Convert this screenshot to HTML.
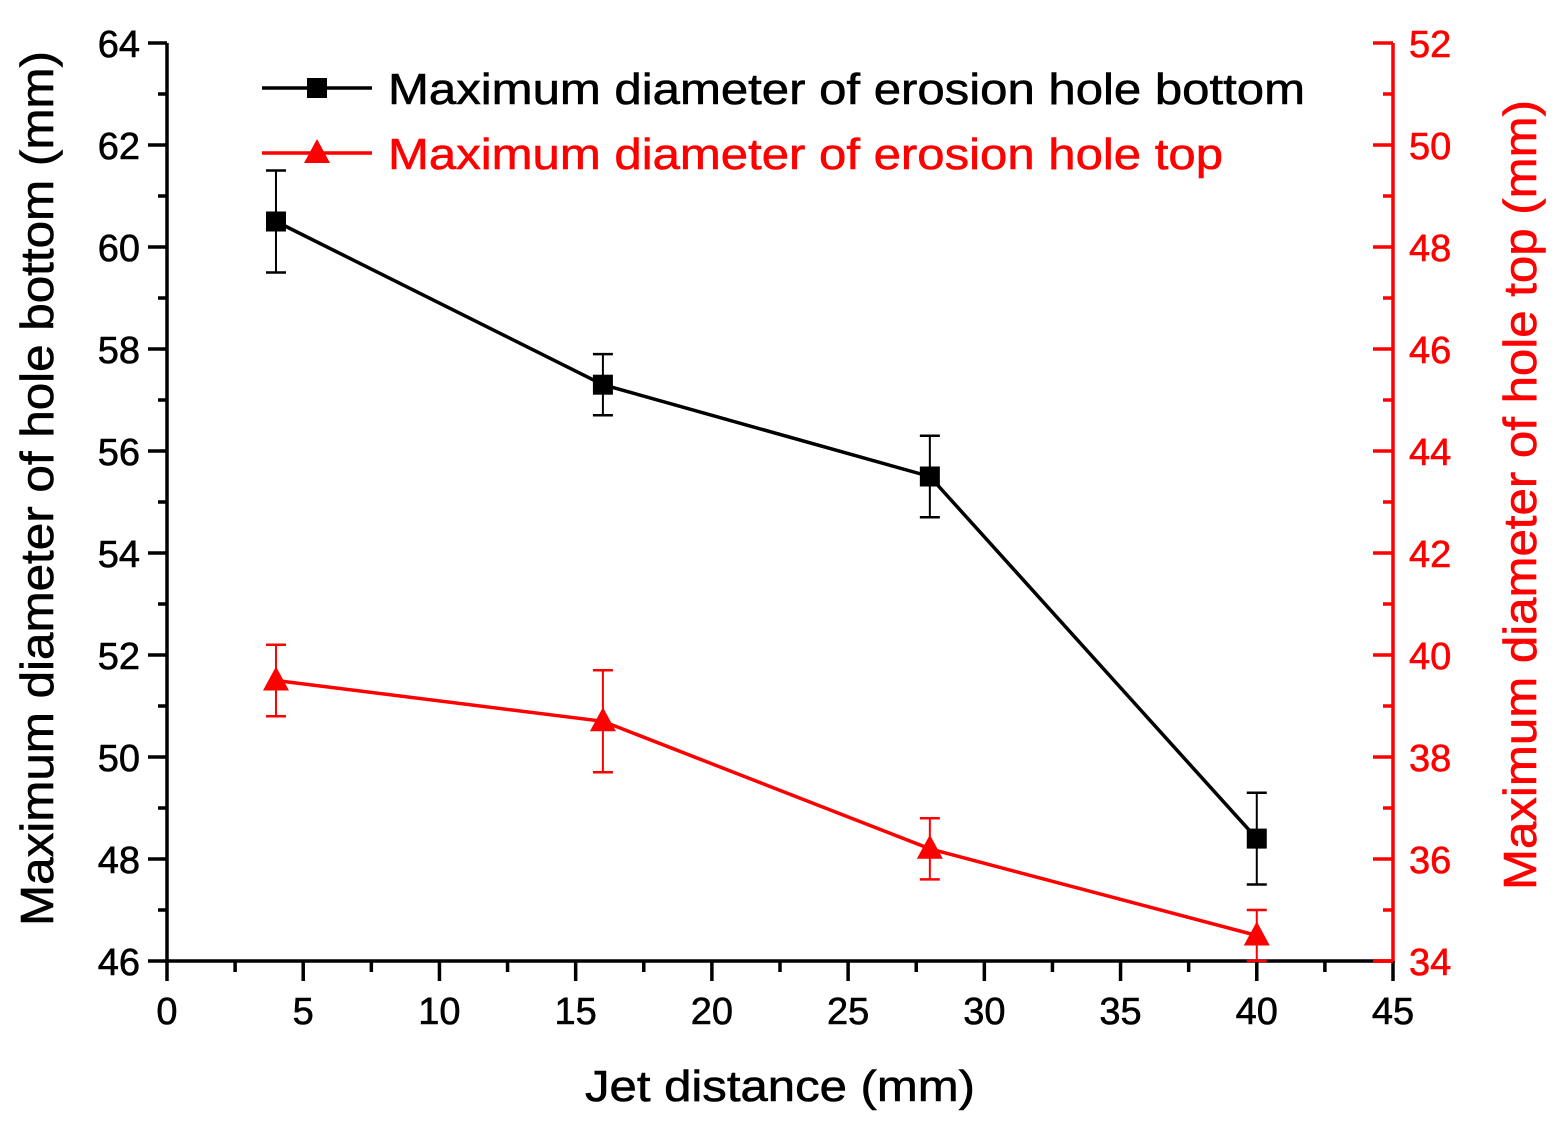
<!DOCTYPE html>
<html><head><meta charset="utf-8"><style>
body{margin:0;background:#fff}
text{font-family:"Liberation Sans",Arial,sans-serif}
</style></head><body>
<svg id="c" width="1557" height="1128" viewBox="0 0 1557 1128" xmlns="http://www.w3.org/2000/svg">
<g id="g"></g>
</svg>
<script>
const xs=[4,16,28,40];
const bottomVals=[60.5,57.3,55.5,48.4];
const bottomErr=[1.0,0.6,0.8,0.9];
const topVals=[39.5,38.7,36.2,34.5];
const topErr=[0.7,1.0,0.6,0.5];
const xTicks=[0,5,10,15,20,25,30,35,40,45];
const yLTicks=[46,48,50,52,54,56,58,60,62,64];
const yRTicks=[34,36,38,40,42,44,46,48,50,52];

const L=167,R=1393,T=43,B=961;
const X=v=>L+(v-0)/45*(R-L);
const YL=v=>B-(v-46)/18*(B-T);
const YR=v=>B-(v-34)/18*(B-T);
const g=document.getElementById('g');
const NS='http://www.w3.org/2000/svg';
function el(t,a,txt){const e=document.createElementNS(NS,t);for(const k in a)e.setAttribute(k,a[k]);if(txt!==undefined)e.textContent=txt;g.appendChild(e);return e;}
function line(x1,y1,x2,y2,c,w){return el('line',{x1,y1,x2,y2,stroke:c,'stroke-width':w});}

let e=line(L,T,L,B+2,'#000',3.5);


e=line(L-2,B,R,B,'#000',3.5);


e=line(R,T,R,B+2,'#f00',3.5);


line(R-20,B,R,B,'#f00',3.5);

const tickStyle={'font-size':38,stroke:'currentColor','stroke-width':0.6};
xTicks.forEach((v,i)=>{
  line(X(v),B,X(v),B+20,'#000',3.5);
  if(i<xTicks.length-1) line(X(v+2.5),B,X(v+2.5),B+11,'#000',3.5);
  const t=el('text',{x:X(v),y:B+63,'font-size':38,'text-anchor':'middle',fill:'#000',stroke:'#000','stroke-width':0.6},String(v));
  
  
});
yLTicks.forEach((v,i)=>{
  line(L-19,YL(v),L,YL(v),'#000',3.5);
  if(i<yLTicks.length-1) line(L-9,YL(v+1),L,YL(v+1),'#000',3.5);
  const t=el('text',{x:L-27,y:YL(v)+14,'font-size':38,'text-anchor':'end',fill:'#000',stroke:'#000','stroke-width':0.6},String(v));
  
  
});
yRTicks.forEach((v,i)=>{
  line(R-20,YR(v),R,YR(v),'#f00',3.5);
  if(i<yRTicks.length-1) line(R-10,YR(v+1),R,YR(v+1),'#f00',3.5);
  const t=el('text',{x:R+16,y:YR(v)+14,'font-size':38,'text-anchor':'start',fill:'#f00',stroke:'#f00','stroke-width':0.6},String(v));
  
  
});
e=el('text',{x:585,y:1101,'font-size':44,fill:'#000',textLength:390,lengthAdjust:'spacingAndGlyphs',stroke:'#000','stroke-width':0.6},'Jet distance (mm)');


e=el('text',{x:0,y:0,'font-size':46,fill:'#000',textLength:875,lengthAdjust:'spacingAndGlyphs',stroke:'#000','stroke-width':0.6,transform:'translate(53,926) rotate(-90)'},'Maximum diameter of hole bottom (mm)');


e=el('text',{x:0,y:0,'font-size':46,fill:'#f00',textLength:790,lengthAdjust:'spacingAndGlyphs',stroke:'#f00','stroke-width':0.6,transform:'translate(1536,890) rotate(-90)'},'Maximum diameter of hole top (mm)');



e=el('polyline',{points:xs.map((x,i)=>X(x)+','+YL(bottomVals[i])).join(' '),fill:'none',stroke:'#000','stroke-width':3.5});


e=el('polyline',{points:xs.map((x,i)=>X(x)+','+YR(topVals[i])).join(' '),fill:'none',stroke:'#f00','stroke-width':3.5});



xs.forEach((x,i)=>{
  const cx=X(x);
  let y1=YL(bottomVals[i]+bottomErr[i]),y2=YL(bottomVals[i]-bottomErr[i]);
  line(cx,y1,cx,y2,'#000',2);line(cx-10,y1,cx+10,y1,'#000',2.5);line(cx-10,y2,cx+10,y2,'#000',2.5);
  let m=el('rect',{x:cx-10,y:YL(bottomVals[i])-10,width:20,height:20,fill:'#000'});
  
  
  y1=YR(topVals[i]+topErr[i]);y2=YR(topVals[i]-topErr[i]);
  line(cx,y1,cx,y2,'#f00',2);line(cx-10,y1,cx+10,y1,'#f00',2.5);line(cx-10,y2,cx+10,y2,'#f00',2.5);
  const cy=YR(topVals[i]);
  m=el('polygon',{points:`${cx},${cy-14} ${cx-13},${cy+10} ${cx+13},${cy+10}`,fill:'#f00'});
  
  
});

line(262,88,372,88,'#000',3.5);
el('rect',{x:307,y:78,width:20,height:20,fill:'#000'});
e=el('text',{x:388,y:104,'font-size':44,fill:'#000',textLength:917,lengthAdjust:'spacingAndGlyphs',stroke:'#000','stroke-width':0.6},'Maximum diameter of erosion hole bottom');


line(262,153,372,153,'#f00',3.5);
el('polygon',{points:'317,139 304,163 330,163',fill:'#f00'});
e=el('text',{x:388,y:169,'font-size':44,fill:'#f00',textLength:835,lengthAdjust:'spacingAndGlyphs',stroke:'#f00','stroke-width':0.6},'Maximum diameter of erosion hole top');


</script>
</body></html>
